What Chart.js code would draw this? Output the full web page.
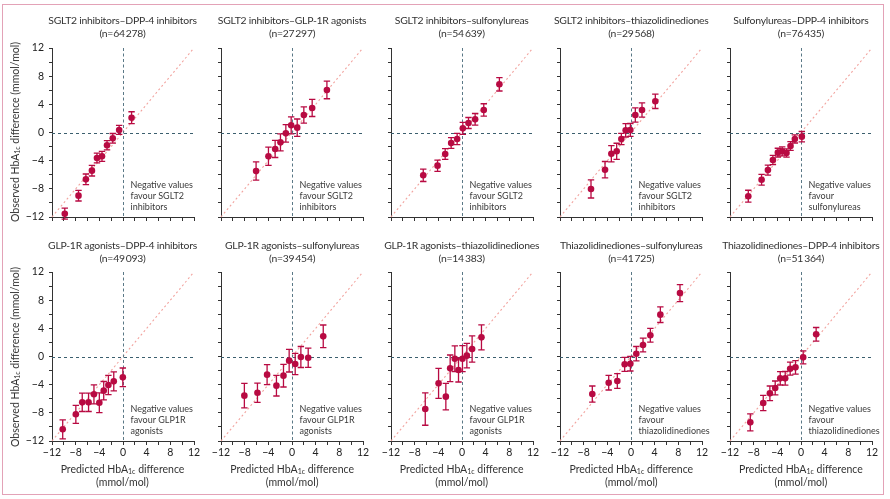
<!DOCTYPE html>
<html><head><meta charset="utf-8">
<script src="https://cdn.jsdelivr.net/npm/chart.js@4.4.0/dist/chart.umd.min.js"></script>
<style>
html,body{margin:0;padding:0;background:#fff;}
body{width:890px;height:499px;position:relative;overflow:hidden;font-family:Lato,"Noto Sans",sans-serif;color:#333;}
.frame{position:absolute;left:2px;top:4px;width:880px;height:489px;border:1px solid #e3a2b7;}
.title{position:absolute;text-align:center;font-size:10.4px;line-height:13.3px;letter-spacing:-0.25px;white-space:nowrap;transform:translateX(-50%);}
.ytitle{position:absolute;font-size:10.5px;white-space:nowrap;transform:translate(-50%,-50%) rotate(-90deg);}
.xtitle{position:absolute;text-align:center;font-size:10.5px;line-height:12.7px;white-space:nowrap;transform:translateX(-50%);}
sub{font-size:7px;vertical-align:-1px;line-height:0;}
canvas{position:absolute;}
</style>
</head><body>
<div class="frame"></div>
<script>
// ---- data ----
const titles = ["SGLT2 inhibitors–DPP-4 inhibitors","SGLT2 inhibitors–GLP-1R agonists","SGLT2 inhibitors–sulfonylureas","SGLT2 inhibitors–thiazolidinediones","Sulfonylureas–DPP-4 inhibitors","GLP-1R agonists–DPP-4 inhibitors","GLP-1R agonists–sulfonylureas","GLP-1R agonists–thiazolidinediones","Thiazolidinediones–sulfonylureas","Thiazolidinediones–DPP-4 inhibitors"];
const sampleSizes = ["64\u2009278","27\u2009297","54\u2009639","29\u2009568","76\u2009435","49\u2009093","39\u2009454","14\u2009383","41\u2009725","51\u2009364"];
const favourLine2 = ["favour SGLT2","favour SGLT2","favour SGLT2","favour SGLT2","favour","favour GLP1R","favour GLP1R","favour GLP1R","favour","favour"];
const favourLine3 = ["inhibitors","inhibitors","inhibitors","inhibitors","sulfonylureas","agonists","agonists","agonists","thiazolidinediones","thiazolidinediones"];
const axisTicks = [-12,-10,-8,-6,-4,-2,0,2,4,6,8,10,12];
const tickLabels = ["−12","","−8","","−4","","0","","4","","8","","12"];

const predicted1 = [-9.84,-7.52,-6.27,-5.25,-4.40,-3.55,-2.70,-1.73,-0.65,1.45];
const observed1  = [-11.53,-8.97,-6.65,-5.42,-3.62,-3.38,-1.82,-0.83,0.36,2.10];
const ci1        = [0.78,0.76,0.76,0.76,0.69,0.71,0.66,0.69,0.64,0.85];

const predicted2 = [-6.07,-3.98,-2.85,-1.95,-1.04,-0.14,0.88,2.00,3.41,5.90];
const observed2  = [-5.47,-3.38,-2.34,-1.40,-0.12,1.02,0.69,2.49,3.48,6.04];
const ci2        = [1.30,1.30,1.21,1.21,1.25,1.21,1.23,1.16,1.21,1.25];

const predicted3 = [-6.55,-4.13,-2.84,-1.83,-0.82,0.14,1.10,2.22,3.68,6.32];
const observed3  = [-6.08,-4.71,-3.05,-1.49,-0.92,0.59,1.35,1.87,3.20,6.84];
const ci3        = [0.88,0.80,0.76,0.76,0.80,0.85,0.78,0.83,0.88,0.95];

const predicted4 = [-6.76,-4.39,-3.32,-2.42,-1.63,-0.90,-0.11,0.73,1.86,4.11];
const observed4  = [-8.02,-5.28,-3.01,-2.67,-0.92,0.31,0.36,2.49,3.20,4.43];
const ci4        = [1.28,1.16,1.16,1.14,0.80,0.95,0.92,1.02,1.02,1.02];

const predicted5 = [-8.91,-6.66,-5.59,-4.75,-3.91,-3.18,-2.45,-1.77,-1.04,0.14];
const observed5  = [-9.05,-6.70,-5.33,-3.91,-2.86,-2.67,-2.91,-1.92,-0.92,-0.59];
const ci5        = [0.85,0.76,0.71,0.66,0.62,0.64,0.59,0.62,0.57,0.73];

const predicted6 = [-10.19,-7.97,-6.89,-5.82,-4.91,-4.00,-3.26,-2.47,-1.56,-0.03];
const observed6  = [-10.34,-8.21,-6.51,-6.51,-5.37,-6.56,-4.85,-4.05,-3.53,-2.96];
const ci6        = [1.35,1.28,1.30,1.30,1.35,1.40,1.30,1.37,1.35,1.33];

const predicted7 = [-8.05,-5.84,-4.21,-2.63,-1.44,-0.48,0.54,1.50,2.74,5.28];
const observed7  = [-5.56,-5.14,-2.58,-4.14,-2.72,-0.59,-1.07,-0.07,-0.17,2.86];
const ci7        = [1.75,1.37,1.42,1.47,1.61,1.61,1.51,1.49,1.37,1.61];

const predicted8 = [-6.21,-3.96,-2.73,-2.00,-1.21,-0.59,0.08,0.82,1.71,3.29];
const observed8  = [-7.46,-3.81,-5.70,-1.68,-0.31,-1.92,-0.31,0.12,1.07,2.72];
const ci8        = [2.30,2.13,1.89,1.89,1.82,1.70,1.85,1.73,1.87,1.78];

const predicted9 = [-6.54,-3.77,-2.31,-1.07,-0.11,0.90,2.03,3.27,4.96,8.28];
const observed9  = [-5.33,-3.72,-3.48,-1.11,-1.02,0.40,1.63,3.01,5.94,9.01];
const ci9        = [1.14,1.04,1.04,0.99,1.04,1.02,0.97,0.97,1.11,1.21];

const predicted10 = [-8.57,-6.38,-5.26,-4.36,-3.51,-2.67,-1.83,-0.93,0.37,2.56];
const observed10  = [-9.35,-6.60,-5.23,-4.47,-3.10,-3.10,-1.73,-1.54,-0.12,3.15];
const ci10        = [1.21,1.09,1.04,0.99,0.95,0.97,0.92,0.95,0.92,0.97];

const predictedAll = [predicted1,predicted2,predicted3,predicted4,predicted5,predicted6,predicted7,predicted8,predicted9,predicted10];
const observedAll  = [observed1,observed2,observed3,observed4,observed5,observed6,observed7,observed8,observed9,observed10];
const ciAll        = [ci1,ci2,ci3,ci4,ci5,ci6,ci7,ci8,ci9,ci10];

// ---- styling / layout ----
const FONT = 'Lato, "Noto Sans", sans-serif';
const RED = '#b80a42';
const DASH = '#3b5f6e';
const VDASH = '#5a7886';
const DIAG = '#f2a39e';
const AXIS = '#333';
const L = 40, T = 10, R = 14, W = 142, H = 169;

const refPlugin = {
  id: 'refs',
  beforeDatasetsDraw(chart, args, opts) {
    const ctx = chart.ctx, xs = chart.scales.x, ys = chart.scales.y, a = chart.chartArea;
    ctx.save();
    // diagonal y = x
    ctx.strokeStyle = DIAG; ctx.lineWidth = 1.1; ctx.setLineDash([2, 2.6]);
    ctx.beginPath();
    ctx.moveTo(xs.getPixelForValue(-12), ys.getPixelForValue(-12));
    ctx.lineTo(xs.getPixelForValue(12), ys.getPixelForValue(12));
    ctx.stroke();
    // zero lines
    ctx.lineWidth = 1; ctx.setLineDash([3, 3]);
    const y0 = Math.round(ys.getPixelForValue(0)) + 0.5;
    const x0 = Math.round(xs.getPixelForValue(0)) + 0.5;
    ctx.strokeStyle = DASH;
    ctx.beginPath(); ctx.moveTo(a.left, y0); ctx.lineTo(a.right, y0); ctx.stroke();
    ctx.strokeStyle = VDASH; ctx.setLineDash([3, 2.5]);
    ctx.beginPath(); ctx.moveTo(x0, a.top); ctx.lineTo(x0, a.bottom); ctx.stroke();
    ctx.setLineDash([]);
    // annotation
    ctx.fillStyle = '#3a3a3a'; ctx.font = '9px ' + FONT; ctx.textBaseline = 'middle'; ctx.textAlign = 'left';
    const lines = ['Negative values', favourLine2[opts.i], favourLine3[opts.i]];
    lines.forEach((s, k) => ctx.fillText(s, x0 + 7, a.bottom - 31.5 + k * 11));
    // error bars
    ctx.strokeStyle = RED; ctx.lineWidth = 1.3;
    const px = predictedAll[opts.i], py = observedAll[opts.i], pe = ciAll[opts.i];
    px.forEach((xv, j) => {
      const X = xs.getPixelForValue(xv);
      const Y1 = ys.getPixelForValue(py[j] + pe[j]);
      const Y2 = ys.getPixelForValue(py[j] - pe[j]);
      ctx.beginPath();
      ctx.moveTo(X, Y1); ctx.lineTo(X, Y2);
      ctx.moveTo(X - 3.2, Y1); ctx.lineTo(X + 3.2, Y1);
      ctx.moveTo(X - 3.2, Y2); ctx.lineTo(X + 3.2, Y2);
      ctx.stroke();
    });
    ctx.restore();
  }
};

function addDiv(cls, html, left, top) {
  const d = document.createElement('div');
  d.className = cls; d.innerHTML = html;
  d.style.left = left + 'px'; d.style.top = top + 'px';
  document.body.appendChild(d);
  return d;
}

for (let i = 0; i < 10; i++) {
  const col = i % 5, row = Math.floor(i / 5);
  const plotLeft = 51.5 + 169.6 * col;
  const plotTop = row ? 272.3 : 47.7;
  const B = row ? 24 : 10;
  const cw = L + W + R, ch = T + H + B;
  const cv = document.createElement('canvas');
  cv.width = cw; cv.height = ch;
  cv.style.width = cw + 'px'; cv.style.height = ch + 'px';
  cv.style.left = (plotLeft - L) + 'px'; cv.style.top = (plotTop - T) + 'px';
  document.body.appendChild(cv);

  const cx = plotLeft + W / 2;
  addDiv('title', titles[i] + '<br>(n=' + sampleSizes[i] + ')', cx, row ? 239 : 14);
  if (col === 0) addDiv('ytitle', 'Observed HbA<sub>1c</sub> difference (mmol/mol)', 15, plotTop + H / 2);
  if (row === 1) addDiv('xtitle', 'Predicted HbA<sub>1c</sub> difference<br>(mmol/mol)', cx, 463);

  const showX = row === 1, showY = col === 0;
  new Chart(cv, {
    type: 'scatter',
    data: { datasets: [{
      data: predictedAll[i].map((x, j) => ({ x: x, y: observedAll[i][j] })),
      backgroundColor: RED, borderWidth: 0, pointRadius: 3.3, pointHoverRadius: 3.3
    }]},
    options: {
      responsive: false, maintainAspectRatio: false, animation: false, devicePixelRatio: 1,
      layout: { padding: { left: 0, top: T, right: R, bottom: 0 } },
      plugins: { legend: { display: false }, tooltip: { enabled: false }, refs: { i: i } },
      scales: {
        x: {
          type: 'linear', min: -12, max: 12,
          afterBuildTicks: s => { s.ticks = axisTicks.map(v => ({ value: v })); },
          ticks: { autoSkip: false, maxRotation: 0, minRotation: 0, padding: 1,
                   color: '#222', font: { size: 10.5, family: FONT },
                   callback: (v) => showX ? tickLabels[axisTicks.indexOf(v)] : '' },
          grid: { drawOnChartArea: false, drawTicks: true, tickLength: 4, tickColor: AXIS, color: AXIS },
          border: { display: true, color: AXIS, width: 1 },
          afterFit: s => { s.height = B; s.paddingLeft = 0; s.paddingRight = 0; }
        },
        y: {
          type: 'linear', min: -12, max: 12,
          afterBuildTicks: s => { s.ticks = axisTicks.map(v => ({ value: v })); },
          ticks: { autoSkip: false, padding: 5, color: '#222', font: { size: 10.5, family: FONT },
                   callback: (v) => showY ? tickLabels[axisTicks.indexOf(v)] : '' },
          grid: { drawOnChartArea: false, drawTicks: true, tickLength: 3, tickColor: AXIS, color: AXIS },
          border: { display: true, color: AXIS, width: 1 },
          afterFit: s => { s.width = L; s.paddingTop = 0; s.paddingBottom = 0; }
        }
      }
    },
    plugins: [refPlugin]
  });
}
</script>
</body></html>
